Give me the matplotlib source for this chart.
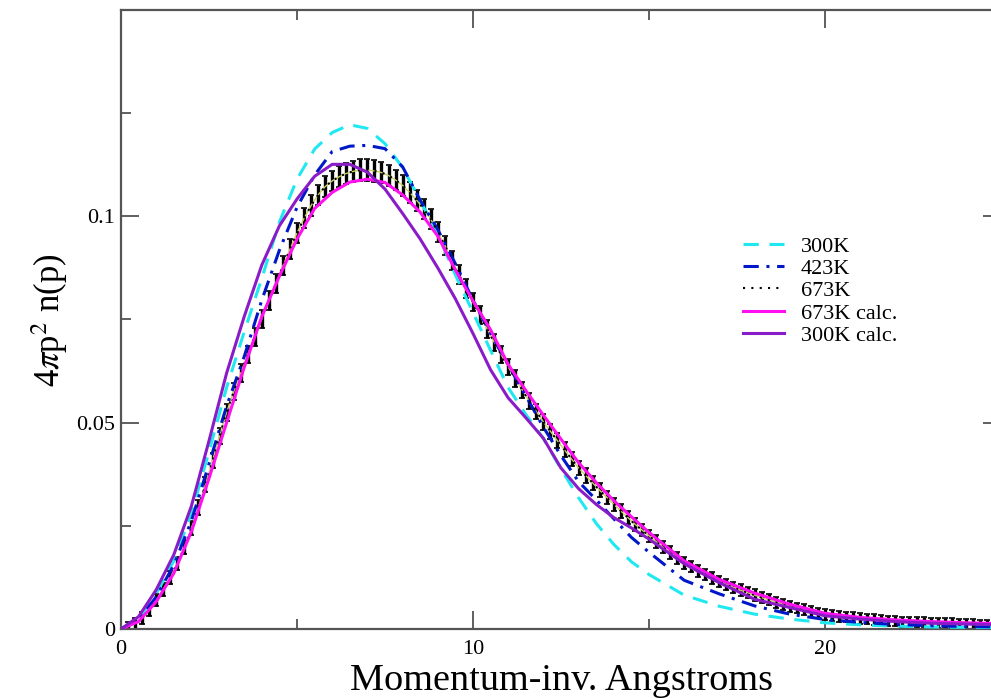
import numpy as np
import matplotlib
matplotlib.use("Agg")
import matplotlib.pyplot as plt
from matplotlib.ticker import MultipleLocator, FuncFormatter

plt.rcParams['font.family'] = ['Liberation Serif', 'DejaVu Serif']
plt.rcParams['mathtext.fontset'] = 'stix'

# calculated / fitted curves, momentum grid (inv. Angstroms)
p_calc = [0, 0.5, 1, 1.5, 2, 2.5, 3, 3.5, 4, 4.5, 5, 5.5, 6, 6.5, 7, 7.5, 8, 8.5, 9, 9.5,
          10, 10.5, 11, 11.5, 12, 12.5, 13, 13.5, 14, 14.5, 15,
          16, 17, 18, 19, 20, 21, 22, 23, 24, 25]

n_300 = [0, 0.0025, 0.0085, 0.0165, 0.0280, 0.0430, 0.0585, 0.0720, 0.0850, 0.0986, 0.1090,
         0.1163, 0.1203, 0.1222, 0.1213, 0.1176, 0.1118, 0.1039, 0.0956, 0.0858,
         0.0767, 0.0675, 0.0585, 0.0520, 0.0462, 0.0388, 0.0318, 0.0256, 0.0205, 0.0163, 0.0132,
         0.0082, 0.0055, 0.0036, 0.0024, 0.0015, 0.0010, 0.0007, 0.0005, 0.0004, 0.0003]

n_423 = [0, 0.0022, 0.0078, 0.0155, 0.0262, 0.0400, 0.0540, 0.0660, 0.0797, 0.0918, 0.1022,
         0.1100, 0.1157, 0.1170, 0.1172, 0.1164, 0.1120, 0.1039, 0.0968, 0.0885,
         0.0797, 0.0716, 0.0640, 0.0565, 0.0489, 0.0420, 0.0357, 0.0313, 0.0267, 0.0222, 0.0186,
         0.0118, 0.0085, 0.0056, 0.0036, 0.0023, 0.0016, 0.0011, 0.0008, 0.0006, 0.0005]

n_673_calc = [0, 0.0018, 0.0066, 0.0135, 0.0236, 0.0365, 0.0500, 0.0634, 0.0757, 0.0855, 0.0945,
              0.1019, 0.1058, 0.1083, 0.1090, 0.1082, 0.1052, 0.1010, 0.0952, 0.0870,
              0.0795, 0.0725, 0.0641, 0.0578, 0.0518, 0.0460, 0.0403, 0.0355, 0.0311, 0.0272, 0.0234,
              0.0165, 0.0120, 0.0087, 0.0060, 0.0038, 0.0028, 0.0022, 0.0018, 0.0015, 0.0013]

n_300_calc = [0, 0.0030, 0.0095, 0.0180, 0.0298, 0.0456, 0.0620, 0.0757, 0.0882, 0.0977, 0.1042,
              0.1097, 0.1126, 0.1126, 0.1107, 0.1066, 0.1007, 0.0945, 0.0875, 0.0800,
              0.0716, 0.0628, 0.0560, 0.0512, 0.0462, 0.0390, 0.0340, 0.0302, 0.0270, 0.0245, 0.0218,
              0.0158, 0.0112, 0.0072, 0.0052, 0.0032, 0.0024, 0.0018, 0.0014, 0.0012, 0.0010]

# 673K measurement with error bars, every 0.2 from 0.2 to 25.0
p_exp = np.round(np.arange(1, 126) * 0.2, 1)
n_673 = [0.0006, 0.0014, 0.0027, 0.0046, 0.0070,
         0.0096, 0.0125, 0.0158, 0.0198, 0.0244,
         0.0295, 0.0350, 0.0408, 0.0468, 0.0525,
         0.0575, 0.0620, 0.0665, 0.0708, 0.0752,
         0.0795, 0.0838, 0.0880, 0.0920, 0.0960,
         0.0995, 0.1026, 0.1052, 0.1072, 0.1086,
         0.1096, 0.1104, 0.1109, 0.1112, 0.1112,
         0.1110, 0.1106, 0.1099, 0.1088, 0.1075,
         0.1058, 0.1039, 0.1018, 0.0993, 0.0962,
         0.0930, 0.0894, 0.0858, 0.0825, 0.0792,
         0.0760, 0.0727, 0.0695, 0.0665, 0.0635,
         0.0607, 0.0579, 0.0552, 0.0527, 0.0502,
         0.0479, 0.0456, 0.0434, 0.0412, 0.0390,
         0.0372, 0.0354, 0.0336, 0.0319, 0.0302,
         0.0286, 0.0270, 0.0254, 0.0240, 0.0226,
         0.0212, 0.0198, 0.0185, 0.0172, 0.0160,
         0.0151, 0.0141, 0.0132, 0.0123, 0.0115,
         0.0108, 0.0101, 0.0094, 0.0088, 0.0082,
         0.0076, 0.0071, 0.0065, 0.0060, 0.0055,
         0.0051, 0.0047, 0.0043, 0.0039, 0.0035,
         0.0033, 0.0031, 0.0029, 0.0027, 0.0025,
         0.0024, 0.0023, 0.0021, 0.0020, 0.0019,
         0.0018, 0.0017, 0.0017, 0.0016, 0.0015,
         0.0015, 0.0014, 0.0014, 0.0013, 0.0012,
         0.0012, 0.0011, 0.0011, 0.0010, 0.0010]
err_673 = [0.0012, 0.0013, 0.0014, 0.0014, 0.0015,
           0.0015, 0.0016, 0.0016, 0.0017, 0.0017,
           0.0018, 0.0018, 0.0019, 0.0019, 0.0020,
           0.0020, 0.0021, 0.0021, 0.0022, 0.0022,
           0.0023, 0.0023, 0.0023, 0.0024, 0.0024,
           0.0024, 0.0025, 0.0025, 0.0025, 0.0025,
           0.0026, 0.0026, 0.0026, 0.0026, 0.0026,
           0.0026, 0.0026, 0.0025, 0.0025, 0.0025,
           0.0025, 0.0025, 0.0024, 0.0024, 0.0024,
           0.0023, 0.0023, 0.0023, 0.0022, 0.0022,
           0.0022, 0.0021, 0.0021, 0.0021, 0.0020,
           0.0020, 0.0020, 0.0019, 0.0019, 0.0019,
           0.0018, 0.0018, 0.0018, 0.0018, 0.0017,
           0.0017, 0.0017, 0.0017, 0.0016, 0.0016,
           0.0016, 0.0016, 0.0016, 0.0015, 0.0015,
           0.0015, 0.0015, 0.0015, 0.0015, 0.0014,
           0.0014, 0.0014, 0.0014, 0.0014, 0.0014,
           0.0014, 0.0014, 0.0014, 0.0014, 0.0014,
           0.0014, 0.0014, 0.0013, 0.0013, 0.0013,
           0.0013, 0.0013, 0.0013, 0.0013, 0.0013,
           0.0013, 0.0013, 0.0013, 0.0013, 0.0013,
           0.0013, 0.0013, 0.0012, 0.0012, 0.0012,
           0.0012, 0.0012, 0.0012, 0.0012, 0.0012,
           0.0012, 0.0012, 0.0012, 0.0012, 0.0012,
           0.0012, 0.0012, 0.0012, 0.0012, 0.0012]

fig = plt.figure(figsize=(9.91, 6.98), dpi=100)
ax = fig.add_axes([121/991, 69/698, 880/991, 619/698])

ax.errorbar(p_exp, n_673, yerr=err_673, fmt='none', ecolor='black',
            elinewidth=2.4, capsize=2.2, capthick=1.2, zorder=2)
ax.plot(p_exp, n_673, color='#c8d060', lw=1.0, zorder=3)
ax.plot(p_calc, n_300, color='#20e8f0', lw=2.2, ls=(0, (5, 3.5)), label='300K', zorder=4)
ax.plot(p_calc, n_423, color='#0018c8', lw=2.2, ls=(0, (5, 2.5, 1, 2.5)), label='423K', zorder=4)
ax.plot(p_exp, n_673, color='black', lw=1.5, ls=(0, (1, 3)), label='673K', zorder=5)
ax.plot(p_calc, n_673_calc, color='#ff10f0', lw=2.2, label='673K calc.', zorder=6)
ax.plot(p_calc, n_300_calc, color='#8a1cc8', lw=2.2, label='300K calc.', zorder=6)

ax.set_xlim(0, 25)
ax.set_ylim(0, 0.15)
ax.xaxis.set_major_locator(MultipleLocator(10))
ax.xaxis.set_minor_locator(MultipleLocator(5))
ax.yaxis.set_major_locator(MultipleLocator(0.05))
ax.yaxis.set_minor_locator(MultipleLocator(0.025))
ax.yaxis.set_major_formatter(FuncFormatter(lambda v, pos: '' if v > 0.14 else '%g' % round(v, 3)))
ax.tick_params(which='both', direction='in', top=True, right=True, color='#444444',
               labelsize=16, width=1.2)
ax.tick_params(which='major', length=13)
ax.tick_params(which='minor', length=7)
ax.tick_params(axis='x', pad=8)
ax.tick_params(axis='y', pad=4)
for s in ax.spines.values():
    s.set_color('#555555')
    s.set_linewidth(1.6)

leg = ax.legend(loc='upper left', bbox_to_anchor=(743/991, 1 - 236/698),
                bbox_transform=fig.transFigure, frameon=False, fontsize=16,
                handlelength=1.85, handletextpad=0.75, labelspacing=0.08,
                borderpad=0, borderaxespad=0)

fig.text(561/991, 1 - 690/698, 'Momentum-inv. Angstroms', fontsize=27.5,
         ha='center', va='baseline')
fig.text(50/991, 1 - 320/698, r'4$\pi$p$^{2}$ n(p)', fontsize=25,
         rotation=90, ha='center', va='center')

fig.savefig('out.png', dpi=100)
